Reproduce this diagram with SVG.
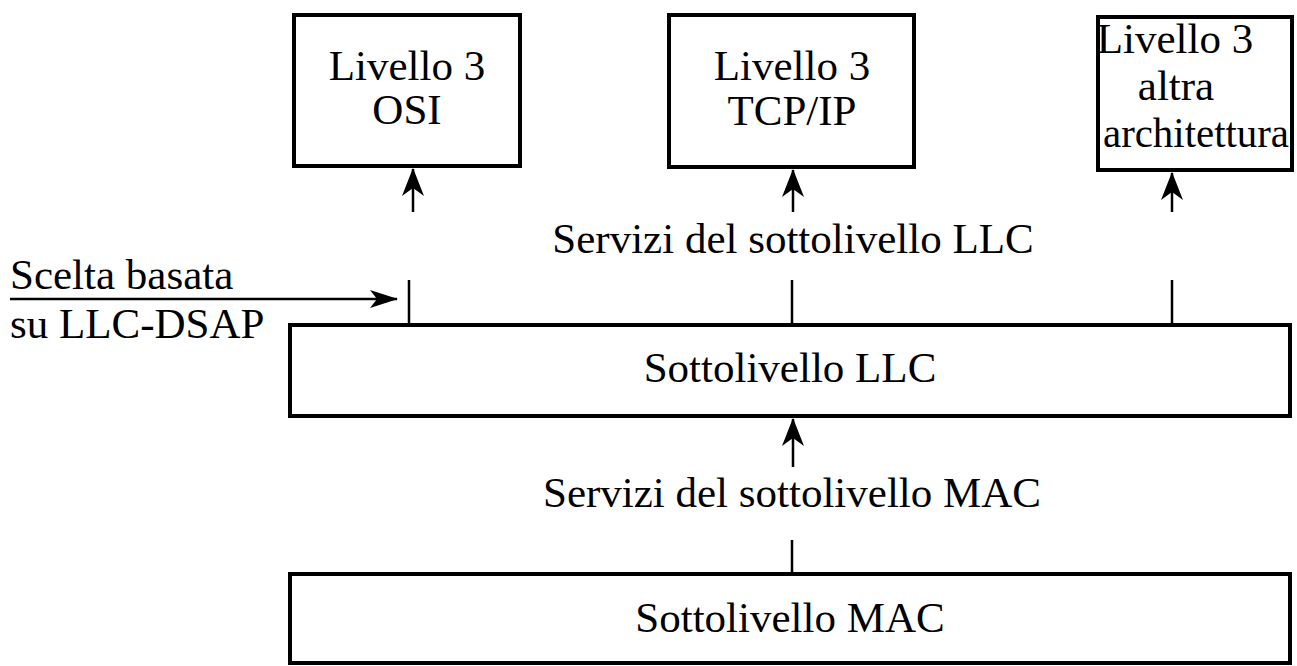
<svg xmlns="http://www.w3.org/2000/svg" width="1297" height="666" viewBox="0 0 1297 666">
<style>
.box{fill:#fff;stroke:#000;stroke-width:4}
.ln{stroke:#000;stroke-width:2.5;fill:none}
text{font-family:"Liberation Serif","Times New Roman",serif;font-size:43px;fill:#000}
.c{text-anchor:middle}
</style>
<defs>
<marker id="ah" markerWidth="28" markerHeight="24" refX="27" refY="12" orient="auto" markerUnits="userSpaceOnUse" viewBox="0 0 28 24">
<path d="M0,1 L28,12 L0,23 L8,12 Z" fill="#000"/>
</marker>
<marker id="ahs" markerWidth="28" markerHeight="18" refX="27" refY="9" orient="auto" markerUnits="userSpaceOnUse" viewBox="0 0 28 18">
<path d="M0,0 L28,9 L0,18 L7,9 Z" fill="#000"/>
</marker>
</defs>
<g id="osi"><rect class="box" x="294" y="15" width="226" height="151"/><text class="c" x="407" y="80">Livello 3</text><text class="c" x="407" y="124">OSI</text></g>
<g id="tcpip"><rect class="box" x="669" y="15" width="245" height="152"/><text class="c" x="792" y="80">Livello 3</text><text class="c" x="792" y="125">TCP/IP</text></g>
<g id="altra"><rect class="box" x="1098" y="17" width="194" height="153"/><text class="c" x="1175" y="53">Livello 3</text><text class="c" x="1176" y="100">altra</text><text class="c" x="1196" y="147" textLength="186" lengthAdjust="spacingAndGlyphs">architettura</text></g>
<g id="llc"><rect class="box" x="290" y="325" width="1000" height="91"/><text class="c" x="790" y="382">Sottolivello LLC</text></g>
<g id="mac"><rect class="box" x="290" y="574" width="1000" height="89"/><text class="c" x="790" y="632">Sottolivello MAC</text></g>
<g id="labels">
<text class="c" x="793" y="253">Servizi del sottolivello LLC</text>
<text class="c" x="792" y="507">Servizi del sottolivello MAC</text>
<text x="10" y="289">Scelta basata</text>
<text x="10" y="338">su LLC-DSAP</text>
</g>
<g id="connectors">
<line class="ln" x1="413" y1="212" x2="413" y2="169" marker-end="url(#ah)"/>
<line class="ln" x1="793" y1="212" x2="793" y2="170" marker-end="url(#ah)"/>
<line class="ln" x1="1172" y1="212" x2="1172" y2="173" marker-end="url(#ah)"/>
<line class="ln" x1="409" y1="280" x2="409" y2="325"/>
<line class="ln" x1="792" y1="280" x2="792" y2="325"/>
<line class="ln" x1="1172" y1="280" x2="1172" y2="325"/>
<line class="ln" x1="10" y1="299" x2="397" y2="299" marker-end="url(#ahs)"/>
<line class="ln" x1="793" y1="467" x2="793" y2="419" marker-end="url(#ah)"/>
<line class="ln" x1="792" y1="540" x2="792" y2="574"/>
</g>
</svg>
